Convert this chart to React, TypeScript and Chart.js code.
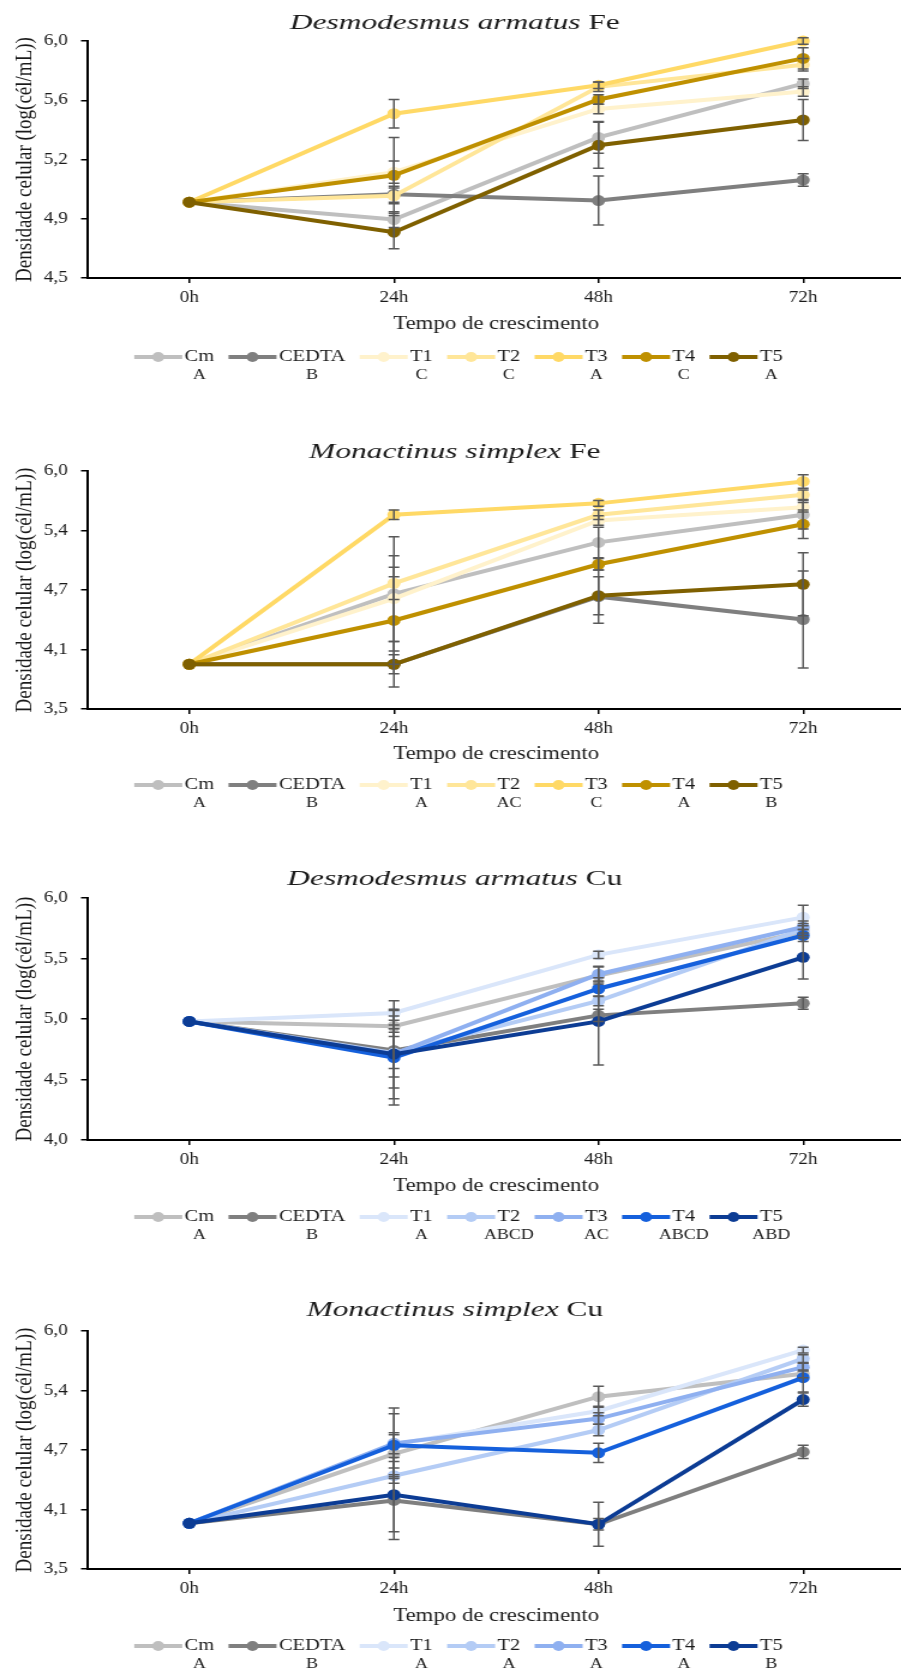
import React, { useEffect, useRef } from 'react';
import { Chart, registerables } from 'chart.js';

Chart.register(...registerables);

// ---------- DATA ----------
const timeLabels = ['0h', '24h', '48h', '72h'];
const seriesNames = ['Cm', 'CEDTA', 'T1', 'T2', 'T3', 'T4', 'T5'];

// Desmodesmus armatus Fe
const daFeValues = [
  [4.98, 4.87, 5.39, 5.73],
  [4.98, 5.03, 4.99, 5.12],
  [4.98, 5.17, 5.57, 5.68],
  [4.98, 5.02, 5.71, 5.85],
  [4.98, 5.54, 5.72, 6.0],
  [4.98, 5.15, 5.63, 5.89],
  [4.98, 4.79, 5.34, 5.5],
];
const daFeErrors = [
  [0, 0.05, 0.1, 0.03],
  [0, 0.05, 0.155, 0.04],
  [0, 0.07, 0.03, 0.03],
  [0, 0.05, 0.03, 0.04],
  [0, 0.09, 0.02, 0.02],
  [0, 0.24, 0.03, 0.067],
  [0, 0.105, 0.145, 0.13],
];
const daFeLetters = ['A', 'B', 'C', 'C', 'A', 'C', 'A'];

// Monactinus simplex Fe
const msFeValues = [
  [3.97, 4.71, 5.25, 5.54],
  [3.97, 3.97, 4.68, 4.44],
  [3.97, 4.66, 5.48, 5.62],
  [3.97, 4.82, 5.54, 5.75],
  [3.97, 5.54, 5.66, 5.89],
  [3.97, 4.43, 5.02, 5.44],
  [3.97, 3.97, 4.69, 4.81],
];
const msFeErrors = [
  [0, 0.6, 0.16, 0.15],
  [0, 0.1, 0.28, 0.51],
  [0, 0.45, 0.05, 0.05],
  [0, 0.17, 0.05, 0.05],
  [0, 0.05, 0.03, 0.07],
  [0, 0.46, 0.06, 0.15],
  [0, 0.24, 0.2, 0.33],
];
const msFeLetters = ['A', 'B', 'A', 'AC', 'C', 'A', 'B'];

// Desmodesmus armatus Cu
const daCuValues = [
  [4.98, 4.94, 5.36, 5.72],
  [4.98, 4.74, 5.03, 5.13],
  [4.98, 5.05, 5.53, 5.84],
  [4.98, 4.72, 5.15, 5.74],
  [4.98, 4.71, 5.37, 5.76],
  [4.98, 4.68, 5.25, 5.69],
  [4.98, 4.71, 4.98, 5.51],
];
const daCuErrors = [
  [0, 0.085, 0.07, 0.05],
  [0, 0.15, 0.05, 0.05],
  [0, 0.1, 0.03, 0.1],
  [0, 0.2, 0.04, 0.05],
  [0, 0.28, 0.065, 0.05],
  [0, 0.39, 0.065, 0.05],
  [0, 0.37, 0.36, 0.18],
];
const daCuLetters = ['A', 'B', 'A', 'ABCD', 'AC', 'ABCD', 'ABD'];

// Monactinus simplex Cu
const msCuValues = [
  [3.98, 4.71, 5.31, 5.55],
  [3.98, 4.22, 3.97, 4.73],
  [3.98, 4.81, 5.16, 5.8],
  [3.98, 4.48, 4.96, 5.71],
  [3.98, 4.82, 5.08, 5.62],
  [3.98, 4.8, 4.72, 5.51],
  [3.98, 4.28, 3.97, 5.28],
];
const msCuErrors = [
  [0, 0.22, 0.11, 0.04],
  [0, 0.41, 0.06, 0.07],
  [0, 0.1, 0.05, 0.03],
  [0, 0.08, 0.06, 0.04],
  [0, 0.37, 0.06, 0.04],
  [0, 0.33, 0.1, 0.15],
  [0, 0.39, 0.23, 0.07],
];
const msCuLetters = ['A', 'B', 'A', 'A', 'A', 'A', 'B'];

const feColors = ['#BFBFBF', '#7F7F7F', '#FFF2CC', '#FFE699', '#FFD966', '#BF9000', '#7F6000'];
const cuColors = ['#BFBFBF', '#7F7F7F', '#DAE6FA', '#B4CCF5', '#8FB0F0', '#1560DC', '#0C3C94'];

const yTicks1 = ['4,5', '4,9', '5,2', '5,6', '6,0'];
const yTicks2 = ['3,5', '4,1', '4,7', '5,4', '6,0'];
const yTicks3 = ['4,0', '4,5', '5,0', '5,5', '6,0'];

const xAxisTitle = 'Tempo de crescimento';
const yAxisTitle = 'Densidade celular (log(cél/mL))';

// ---------- LAYOUT / STYLE ----------
const SX = 1.2; // horizontal stretch of the whole picture
const CW = 760; // canvas width (before stretch)
const FONT = '"Liberation Serif", "Times New Roman", serif';
const TEXT = '#1a1a1a';

type Cfg = {
  titleItalic: string;
  titleNormal: string;
  values: number[][];
  errors: number[][];
  letters: string[];
  colors: string[];
  yMin: number;
  yMax: number;
  yStep: number;
  yLabels: string[];
  top: number;
  height: number;
  titleY: number;
  plotTop: number;
  plotBottom: number;
  xTitleY: number;
  legendY: number;
  letterY: number;
};

const charts: Cfg[] = [
  {
    titleItalic: 'Desmodesmus armatus', titleNormal: 'Fe',
    values: daFeValues, errors: daFeErrors, letters: daFeLetters, colors: feColors,
    yMin: 4.5, yMax: 6, yStep: 0.375, yLabels: yTicks1,
    top: 0, height: 420, titleY: 23, plotTop: 41, plotBottom: 278, xTitleY: 324, legendY: 357, letterY: 375,
  },
  {
    titleItalic: 'Monactinus simplex', titleNormal: 'Fe',
    values: msFeValues, errors: msFeErrors, letters: msFeLetters, colors: feColors,
    yMin: 3.5, yMax: 6, yStep: 0.625, yLabels: yTicks2,
    top: 420, height: 430, titleY: 32, plotTop: 51, plotBottom: 289, xTitleY: 334, legendY: 365, letterY: 383,
  },
  {
    titleItalic: 'Desmodesmus armatus', titleNormal: 'Cu',
    values: daCuValues, errors: daCuErrors, letters: daCuLetters, colors: cuColors,
    yMin: 4, yMax: 6, yStep: 0.5, yLabels: yTicks3,
    top: 850, height: 420, titleY: 29, plotTop: 48, plotBottom: 290, xTitleY: 336, legendY: 367, letterY: 385,
  },
  {
    titleItalic: 'Monactinus simplex', titleNormal: 'Cu',
    values: msCuValues, errors: msCuErrors, letters: msCuLetters, colors: cuColors,
    yMin: 3.5, yMax: 6, yStep: 0.625, yLabels: yTicks2,
    top: 1270, height: 400, titleY: 40, plotTop: 61, plotBottom: 299, xTitleY: 346, legendY: 376, letterY: 394,
  },
];

function LineChart({ cfg }: { cfg: Cfg }) {
  const ref = useRef<HTMLCanvasElement>(null);

  useEffect(() => {
    const canvas = ref.current;
    if (!canvas) return;
    const xTitleFont = 19;
    const xh = cfg.xTitleY - cfg.plotBottom + (xTitleFont * 1.2) / 2;
    const padBottom = cfg.height - cfg.plotBottom - xh;

    const titlePlugin = {
      id: 'customTitle',
      afterDraw(chart: any) {
        const ctx = chart.ctx;
        ctx.save();
        const fs = 22;
        const it = `italic ${fs}px ${FONT}`;
        const nf = `${fs}px ${FONT}`;
        ctx.font = it;
        const w1 = ctx.measureText(cfg.titleItalic).width;
        ctx.font = nf;
        const w2 = ctx.measureText(' ' + cfg.titleNormal).width;
        const total = w1 + w2;
        ctx.translate(CW / 2 - 1, cfg.titleY);
        ctx.scale(1.19, 1);
        ctx.fillStyle = TEXT;
        ctx.textBaseline = 'middle';
        ctx.textAlign = 'left';
        ctx.font = it;
        ctx.fillText(cfg.titleItalic, -total / 2, 0);
        ctx.font = nf;
        ctx.fillText(' ' + cfg.titleNormal, -total / 2 + w1, 0);
        ctx.restore();
      },
    };

    const legendPlugin = {
      id: 'customLegend',
      afterDraw(chart: any) {
        const ctx = chart.ctx;
        ctx.save();
        const lineLen = 40;
        const gapText = 2;
        const gapItem = 12;
        ctx.font = `17px ${FONT}`;
        const widths = seriesNames.map((n) => ctx.measureText(n).width);
        const total =
          widths.reduce((a, w) => a + lineLen + gapText + w, 0) + gapItem * (seriesNames.length - 1);
        let x = 382 - total / 2;
        seriesNames.forEach((name, i) => {
          const c = cfg.colors[i];
          ctx.strokeStyle = c;
          ctx.lineWidth = 4;
          ctx.lineCap = 'butt';
          ctx.beginPath();
          ctx.moveTo(x, cfg.legendY);
          ctx.lineTo(x + lineLen, cfg.legendY);
          ctx.stroke();
          ctx.fillStyle = c;
          ctx.beginPath();
          ctx.arc(x + lineLen / 2, cfg.legendY, 5, 0, Math.PI * 2);
          ctx.fill();
          const tx = x + lineLen + gapText;
          ctx.fillStyle = TEXT;
          ctx.textBaseline = 'middle';
          ctx.textAlign = 'left';
          ctx.font = `17px ${FONT}`;
          ctx.fillText(name, tx, cfg.legendY);
          ctx.textAlign = 'center';
          ctx.font = `15px ${FONT}`;
          ctx.fillText(cfg.letters[i], tx + widths[i] / 2, cfg.letterY);
          x = tx + widths[i] + gapItem;
        });
        ctx.restore();
      },
    };

    const errorPlugin = {
      id: 'errorBars',
      afterDatasetsDraw(chart: any) {
        const ctx = chart.ctx;
        const xs = chart.scales.x;
        const ys = chart.scales.y;
        ctx.save();
        ctx.strokeStyle = '#595959';
        ctx.lineWidth = 1.5;
        const cap = 4.5;
        for (let i = cfg.values.length - 1; i >= 0; i--) {
          cfg.values[i].forEach((v, j) => {
            const e = cfg.errors[i][j];
            if (!e) return;
            const px = xs.getPixelForValue(j);
            const y1 = ys.getPixelForValue(v + e);
            const y2 = ys.getPixelForValue(v - e);
            ctx.beginPath();
            ctx.moveTo(px, y1);
            ctx.lineTo(px, y2);
            ctx.moveTo(px - cap, y1);
            ctx.lineTo(px + cap, y1);
            ctx.moveTo(px - cap, y2);
            ctx.lineTo(px + cap, y2);
            ctx.stroke();
          });
        }
        ctx.restore();
      },
    };

    const n = seriesNames.length;
    const chart = new Chart(canvas, {
      type: 'line',
      data: {
        labels: timeLabels,
        datasets: seriesNames.map((name, i) => ({
          label: name,
          data: cfg.values[i],
          borderColor: cfg.colors[i],
          backgroundColor: cfg.colors[i],
          borderWidth: 4,
          pointRadius: 5.5,
          pointHoverRadius: 5.5,
          pointBackgroundColor: cfg.colors[i],
          pointBorderColor: cfg.colors[i],
          pointBorderWidth: 0,
          tension: 0,
          clip: false as any,
          order: n - i,
        })),
      },
      options: {
        responsive: false,
        animation: false,
        devicePixelRatio: 1,
        events: [],
        layout: { padding: { top: cfg.plotTop, left: 0, right: 1, bottom: padBottom } },
        plugins: {
          legend: { display: false },
          title: { display: false },
          tooltip: { enabled: false },
        },
        scales: {
          x: {
            type: 'category',
            offset: true,
            afterFit: (scale: any) => {
              scale.height = xh;
            },
            grid: {
              display: true,
              drawOnChartArea: false,
              drawTicks: true,
              tickLength: 5,
              color: '#000',
              lineWidth: 1.5,
              offset: false,
            },
            border: { display: true, color: '#000', width: 2 },
            ticks: {
              color: TEXT,
              font: { family: FONT, size: 16 },
              padding: 5,
              maxRotation: 0,
              autoSkip: false,
            },
            title: {
              display: true,
              text: xAxisTitle,
              color: TEXT,
              font: { family: FONT, size: xTitleFont, lineHeight: 1.2 },
              padding: { top: 0, bottom: 0 },
            },
          },
          y: {
            type: 'linear',
            min: cfg.yMin,
            max: cfg.yMax,
            afterFit: (scale: any) => {
              scale.width = 72.5;
            },
            grid: {
              display: true,
              drawOnChartArea: false,
              drawTicks: true,
              tickLength: 5,
              color: '#000',
              lineWidth: 1.5,
            },
            border: { display: true, color: '#000', width: 2 },
            ticks: {
              stepSize: cfg.yStep,
              color: TEXT,
              font: { family: FONT, size: 16 },
              padding: 11,
              callback: (_v: any, idx: number) => cfg.yLabels[idx] ?? '',
            },
            title: {
              display: true,
              text: yAxisTitle,
              color: TEXT,
              font: { family: FONT, size: 19, lineHeight: 1.2 },
              padding: { top: 10, bottom: 0 },
            },
          },
        },
      },
      plugins: [errorPlugin, titlePlugin, legendPlugin],
    } as any);

    return () => chart.destroy();
  }, [cfg]);

  return (
    <div
      style={{
        position: 'absolute',
        left: 0,
        top: cfg.top,
        width: CW * SX,
        height: cfg.height,
        overflow: 'hidden',
      }}
    >
      <canvas
        ref={ref}
        width={CW}
        height={cfg.height}
        style={{
          display: 'block',
          width: CW,
          height: cfg.height,
          transform: `scaleX(${SX})`,
          transformOrigin: '0 0',
        }}
      />
    </div>
  );
}

export default function App() {
  return (
    <div
      style={{
        position: 'absolute',
        left: 0,
        top: 0,
        width: 901,
        height: 1670,
        overflow: 'hidden',
        background: '#ffffff',
      }}
    >
      {charts.map((c, i) => (
        <LineChart key={i} cfg={c} />
      ))}
    </div>
  );
}
